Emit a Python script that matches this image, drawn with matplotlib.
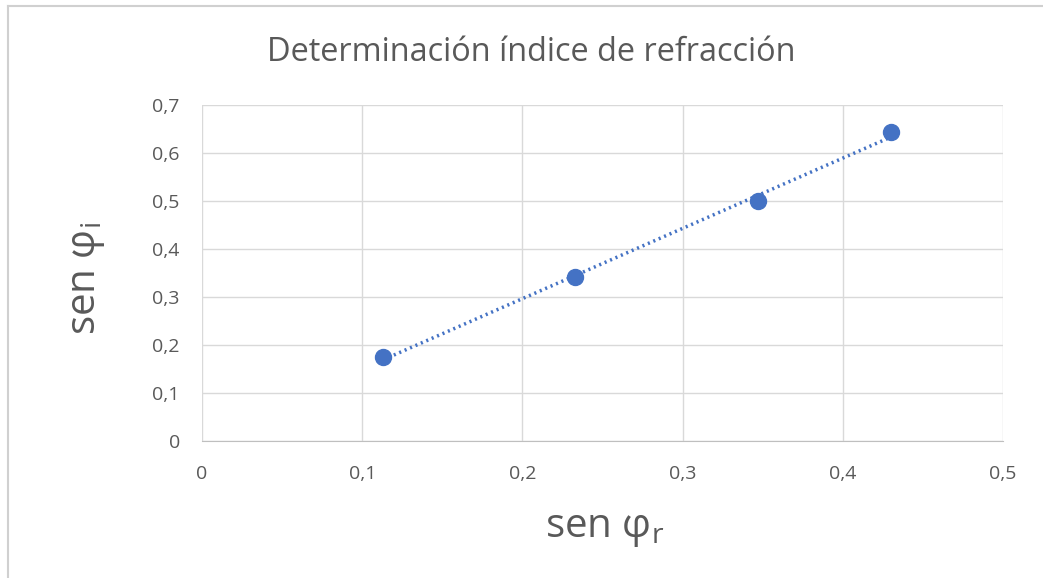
import numpy as np
import matplotlib
matplotlib.use("Agg")
import matplotlib.pyplot as plt
from matplotlib.lines import Line2D

# datos
sen_r = [0.113, 0.233, 0.347, 0.430]
sen_i = [0.174, 0.342, 0.500, 0.643]
xticks = [0, 0.1, 0.2, 0.3, 0.4, 0.5]
yticks = [0, 0.1, 0.2, 0.3, 0.4, 0.5, 0.6, 0.7]

plt.rcParams['font.family'] = ['Open Sans', 'DejaVu Sans']
plt.rcParams['mathtext.fontset'] = 'custom'
plt.rcParams['mathtext.rm'] = 'Open Sans'
plt.rcParams['mathtext.it'] = 'Open Sans'

azul = '#4472C4'
gris = '#595959'

W, H = 1043, 578
fig = plt.figure(figsize=(W / 100, H / 100), dpi=100)
# borde del area del grafico
fig.add_artist(Line2D([7.5 / W, 7.5 / W], [0, 1 - 6 / H], color='#d0d0d0', lw=1.5))
fig.add_artist(Line2D([7.5 / W, 1], [1 - 6 / H, 1 - 6 / H], color='#d0d0d0', lw=1.5))

ax = fig.add_axes([202 / W, 1 - 441 / H, 801 / W, 336 / H])

# linea de tendencia lineal
p = np.polyfit(sen_r, sen_i, 1)
xt = np.array([min(sen_r), max(sen_r)])
ax.plot(xt, np.polyval(p, xt), color=azul, lw=2.5, ls=(0, (0.6, 1.1)), zorder=2)
ax.plot(sen_r, sen_i, 'o', color=azul, ms=11.5, zorder=3)

ax.set_xlim(0, 0.5)
ax.set_ylim(0, 0.7)
ax.set_xticks(xticks)
ax.set_yticks(yticks)
fmt = lambda v: ('%g' % v).replace('.', ',')
ax.set_xticklabels([fmt(v) for v in xticks])
ax.set_yticklabels([fmt(v) for v in yticks])
ax.tick_params(length=0, labelsize=14, labelcolor=gris)
ax.tick_params(axis='x', pad=17)
ax.tick_params(axis='y', pad=16)
ax.grid(True, color='#d9d9d9', lw=1)
ax.set_axisbelow(True)
for s in ['top', 'right', 'left']:
    ax.spines[s].set_visible(False)
ax.spines['bottom'].set_color('#bfbfbf')

fig.text(531 / W, 1 - 61 / H, 'Determinación índice de refracción',
         fontsize=23.4, color=gris, ha='center', va='baseline')
fig.text(605 / W, 1 - 537 / H, r'sen $\mathregular{φ_r}$', fontsize=29,
         color=gris, ha='center', va='baseline')
fig.text(95 / W, 1 - 278 / H, r'sen $\mathregular{φ_i}$', fontsize=29,
         color=gris, ha='center', va='baseline', rotation=90,
         rotation_mode='anchor')

fig.savefig('out.png', dpi=100)
